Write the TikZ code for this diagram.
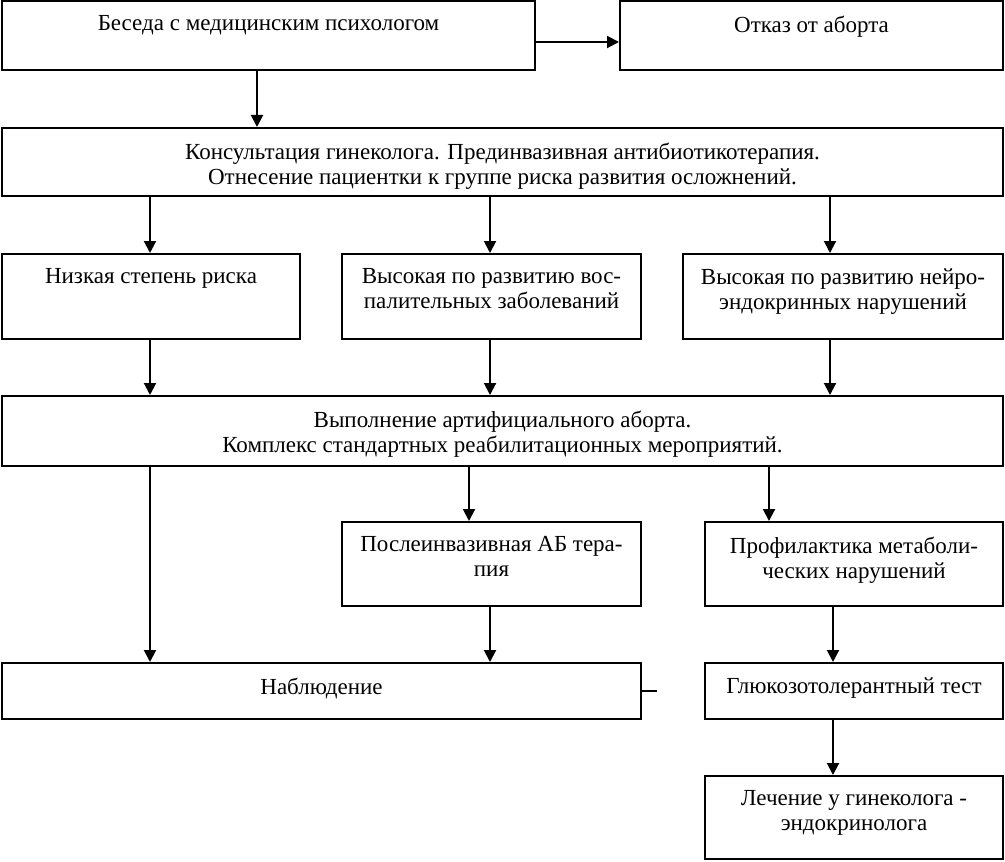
\documentclass[tikz,border=0pt]{standalone}
\usepackage{fontspec}
\setmainfont{Liberation Serif}
\usetikzlibrary{arrows.meta,fit}
\begin{document}
\begin{tikzpicture}[x=0.5pt,y=-0.5pt,
  box/.style={draw,line width=1pt,inner sep=0pt,rectangle},
  txt/.style={inner sep=0pt,anchor=north,align=center,font=\fontsize{11.5}{12.6}\selectfont},
  arr/.style={line width=1pt,-{Triangle[width=6pt,length=6pt]}}]
\useasboundingbox (0,0) rectangle (1005,861);
\newcommand\mybox[6]{%
  \node[box,fit={(#2,#3)(#4,#5)}] (#1) {};
  \node[txt] (#1t) at ([yshift=-7.6pt]#1.north) {#6};}
\mybox{b1}{2}{1}{535}{70}{Беседа с медицинским психологом}
\mybox{b2}{620}{1}{1003}{70}{Отказ от аборта}
\mybox{b3}{2}{128}{1003}{196}{Консультация гинеколога. Прединвазивная антибиотикотерапия.\\Отнесение пациентки к группе риска развития осложнений.}
\mybox{b4a}{2}{254}{300}{339}{Низкая степень риска}
\mybox{b4b}{342}{254}{641}{339}{Высокая по развитию вос-\\палительных заболеваний}
\mybox{b4c}{683}{254}{1003}{339}{Высокая по развитию нейро-\\эндокринных нарушений}
\mybox{b5}{2}{396}{1003}{466}{Выполнение артифициального аборта.\\Комплекс стандартных реабилитационных мероприятий.}
\mybox{b6a}{342}{522}{641}{606}{Послеинвазивная АБ тера-\\пия}
\mybox{b6b}{705}{522}{1003}{606}{Профилактика метаболи-\\ческих нарушений}
\mybox{b7}{2}{663}{641}{719}{Наблюдение}
\mybox{b8}{705}{663}{1003}{719}{Глюкозотолерантный тест}
\mybox{b9}{705}{776}{1003}{859}{Лечение у гинеколога -\\эндокринолога}
\draw[arr] (b1.east |- 0,42) -- (b2.west |- 0,42);
\draw[arr] (b1.south -| 257,0) -- (b3.north -| 257,0);
\draw[arr] (b3.south -| 150,0) -- (b4a.north -| 150,0);
\draw[arr] (b3.south -| 490,0) -- (b4b.north -| 490,0);
\draw[arr] (b3.south -| 830,0) -- (b4c.north -| 830,0);
\draw[arr] (b4a.south -| 150,0) -- (b5.north -| 150,0);
\draw[arr] (b4b.south -| 490,0) -- (b5.north -| 490,0);
\draw[arr] (b4c.south -| 830,0) -- (b5.north -| 830,0);
\draw[arr] (b5.south -| 150,0) -- (b7.north -| 150,0);
\draw[arr] (b5.south -| 469,0) -- (b6a.north -| 469,0);
\draw[arr] (b5.south -| 769,0) -- (b6b.north -| 769,0);
\draw[arr] (b6a.south -| 490,0) -- (b7.north -| 490,0);
\draw[arr] (b6b.south -| 833,0) -- (b8.north -| 833,0);
\draw[arr] (b8.south -| 833,0) -- (b9.north -| 833,0);
\coordinate (stub) at (657,691);
\draw[line width=1pt] (b7.east |- stub) -- (stub);
\end{tikzpicture}
\end{document}
